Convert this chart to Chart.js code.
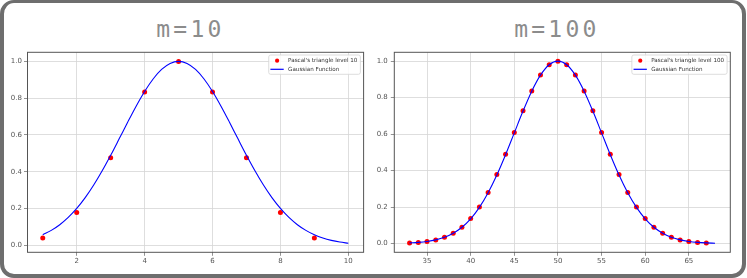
<!DOCTYPE html>
<html><head><meta charset="utf-8">
<script src="https://cdn.jsdelivr.net/npm/chart.js@4.4.1/dist/chart.umd.min.js"></script>
<style>
html,body{margin:0;padding:0;background:#fff;}
#wrap{position:relative;width:747px;height:278px;overflow:hidden;}
#frame{position:absolute;left:0;top:0;width:746px;height:278px;box-sizing:border-box;border:4px solid #6e6e6e;border-top-width:3px;border-radius:14px;}
.title{position:absolute;top:17.5px;font-family:"DejaVu Sans Mono",monospace;font-size:23px;line-height:23px;letter-spacing:3.2px;color:#8c8c8c;white-space:nowrap;transform:translateX(-50%);}
canvas{position:absolute;top:0;}
</style></head><body>
<div id="wrap">
<div id="frame"></div>
<div class="title" id="t1" style="left:190.4px"></div>
<div class="title" id="t2" style="left:556.9px"></div>
<canvas id="c1" width="373" height="278" style="left:0"></canvas>
<canvas id="c2" width="374" height="278" style="left:373px"></canvas>
</div>
<script>
// ---- data ----
const chartTitles = ['m=10', 'm=100'];
const pointLabels = ["Pascal's triangle level 10", "Pascal's triangle level 100"];
const lineLabel = 'Gaussian Function';

const pascal10X = [1, 2, 3, 4, 5, 6, 7, 8, 9];
const pascal10Y = [0.040, 0.179, 0.476, 0.833, 1.0, 0.833, 0.476, 0.179, 0.040];
const gauss10X = [1, 1.25, 1.5, 1.75, 2, 2.25, 2.5, 2.75, 3, 3.25, 3.5, 3.75, 4, 4.25, 4.5, 4.75, 5,
  5.25, 5.5, 5.75, 6, 6.25, 6.5, 6.75, 7, 7.25, 7.5, 7.75, 8, 8.25, 8.5, 8.75, 9, 9.25, 9.5, 9.75, 10];
const gauss10Y = [0.0574, 0.0812, 0.1122, 0.1517, 0.2005, 0.2591, 0.3276, 0.4049, 0.4895, 0.5788, 0.6691, 0.7565, 0.8365, 0.9044, 0.9563, 0.9889, 1.0,
  0.9889, 0.9563, 0.9044, 0.8365, 0.7565, 0.6691, 0.5788, 0.4895, 0.4049, 0.3276, 0.2591, 0.2005, 0.1517, 0.1122, 0.0812, 0.0574, 0.0397, 0.0269, 0.0178, 0.0115];

const pascal100X = [33, 34, 35, 36, 37, 38, 39, 40, 41, 42, 43, 44, 45, 46, 47, 48, 49, 50,
  51, 52, 53, 54, 55, 56, 57, 58, 59, 60, 61, 62, 63, 64, 65, 66, 67];
const pascal100Y = [0.0029, 0.0058, 0.0108, 0.0196, 0.0339, 0.0562, 0.0893, 0.1363, 0.1994, 0.2801, 0.3778, 0.4894, 0.6091, 0.7282, 0.8367, 0.9238, 0.9804, 1.0,
  0.9804, 0.9238, 0.8367, 0.7282, 0.6091, 0.4894, 0.3778, 0.2801, 0.1994, 0.1363, 0.0893, 0.0562, 0.0339, 0.0196, 0.0108, 0.0058, 0.0029];
const gauss100X = [33, 34, 35, 36, 37, 38, 39, 40, 41, 42, 43, 44, 45, 46, 47, 48, 49, 50,
  51, 52, 53, 54, 55, 56, 57, 58, 59, 60, 61, 62, 63, 64, 65, 66, 67, 68];
const gauss100Y = [0.0031, 0.0060, 0.0111, 0.0198, 0.0340, 0.0561, 0.0889, 0.1353, 0.1979, 0.2780, 0.3753, 0.4868, 0.6065, 0.7261, 0.8353, 0.9231, 0.9802, 1.0,
  0.9802, 0.9231, 0.8353, 0.7261, 0.6065, 0.4868, 0.3753, 0.2780, 0.1979, 0.1353, 0.0889, 0.0561, 0.0340, 0.0198, 0.0111, 0.0060, 0.0031, 0.0015];

const xTicks10 = [2, 4, 6, 8, 10];
const xTicks100 = [35, 40, 45, 50, 55, 60, 65];
const yTicks = [0.0, 0.2, 0.4, 0.6, 0.8, 1.0];

document.getElementById('t1').textContent = chartTitles[0];
document.getElementById('t2').textContent = chartTitles[1];

const zip = (xs, ys) => xs.map((x, i) => ({x: x, y: ys[i]}));

const framePlugin = {
  id: 'axFrame',
  afterDatasetsDraw(chart) {
    const {ctx, chartArea: a} = chart;
    ctx.save();
    ctx.strokeStyle = '#555';
    ctx.lineWidth = 1;
    ctx.strokeRect(a.left, a.top, a.right - a.left, a.bottom - a.top);
    ctx.restore();
  }
};

const boxLegend = {
  id: 'boxLegend',
  afterDraw(chart) {
    const {ctx, chartArea: a} = chart;
    const fs = 5.6;
    ctx.save();
    ctx.font = fs + 'px "DejaVu Sans"';
    const ds = chart.data.datasets;
    const tw = Math.max(...ds.map(d => ctx.measureText(d.label).width));
    const w = 19.4 + tw + 3, h = 19.3;
    const x = a.right - 3.2 - w, y = a.top + 2.7;
    ctx.fillStyle = 'rgba(255,255,255,0.85)';
    ctx.strokeStyle = '#d4d4d4';
    ctx.lineWidth = 0.8;
    ctx.beginPath();
    ctx.roundRect(x, y, w, h, 2);
    ctx.fill();
    ctx.stroke();
    ds.forEach((d, i) => {
      const cy = y + 5.7 + i * 8.6;
      if (d.showLine === false) {
        ctx.fillStyle = d.pointBackgroundColor;
        ctx.beginPath();
        ctx.arc(x + 8.4, cy, 2.1, 0, Math.PI * 2);
        ctx.fill();
      } else {
        ctx.strokeStyle = d.borderColor;
        ctx.lineWidth = 1.2;
        ctx.beginPath();
        ctx.moveTo(x + 1.7, cy);
        ctx.lineTo(x + 15, cy);
        ctx.stroke();
      }
      ctx.fillStyle = '#333';
      ctx.textBaseline = 'middle';
      ctx.textAlign = 'left';
      ctx.fillText(d.label, x + 19.4, cy);
    });
    ctx.restore();
  }
};

function build(id, o) {
  const tickFont = {size: 7, family: '"DejaVu Sans"'};
  new Chart(document.getElementById(id), {
    type: 'line',
    data: {
      datasets: [
        {label: o.pLabel, data: zip(o.px, o.py), showLine: false, order: 1,
         pointRadius: 2.5, pointBackgroundColor: '#ff0000', pointBorderColor: '#ff0000', pointBorderWidth: 0},
        {label: lineLabel, data: zip(o.lx, o.ly), order: 0, borderColor: '#0000ff', borderWidth: 1.1,
         pointRadius: 0, cubicInterpolationMode: 'monotone', fill: false}
      ]
    },
    options: {
      responsive: false, animation: false, devicePixelRatio: 1,
      layout: {padding: {left: 0, top: 52.3, right: o.padR, bottom: 0}},
      plugins: {legend: {display: false}, tooltip: {enabled: false}},
      scales: {
        x: {
          type: 'linear', min: o.xMin, max: o.xMax,
          afterBuildTicks: ax => { ax.ticks = o.xTicks.map(v => ({value: v})); },
          afterFit: ax => { ax.height = 25.7; },
          ticks: {font: tickFont, color: '#555', padding: 1, maxRotation: 0, autoSkip: false, callback: v => String(v)},
          grid: {color: '#d6d6d6', lineWidth: 0.8, tickLength: 3.5, tickColor: '#777'},
          border: {display: false}
        },
        y: {
          type: 'linear', min: o.yMin, max: o.yMax,
          afterBuildTicks: ax => { ax.ticks = yTicks.map(v => ({value: v})); },
          afterFit: ax => { ax.width = o.yW; },
          ticks: {font: tickFont, color: '#555', padding: o.yPad, autoSkip: false, callback: v => v.toFixed(1)},
          grid: {color: '#d6d6d6', lineWidth: 0.8, tickLength: 3.5, tickColor: '#777'},
          border: {display: false}
        }
      }
    },
    plugins: [framePlugin, boxLegend]
  });
}

build('c1', {px: pascal10X, py: pascal10Y, lx: gauss10X, ly: gauss10Y, pLabel: pointLabels[0],
  xMin: 0.55, xMax: 10.45, yMin: -0.0379, yMax: 1.0494, xTicks: xTicks10, padR: 9.4, yW: 27.5, yPad: 2});
build('c2', {px: pascal100X, py: pascal100Y, lx: gauss100X, ly: gauss100Y, pLabel: pointLabels[1],
  xMin: 31.25, xMax: 69.75, yMin: -0.0484, yMax: 1.0484, xTicks: xTicks100, padR: 16.7, yW: 21.3, yPad: 3});
</script>
</body></html>
